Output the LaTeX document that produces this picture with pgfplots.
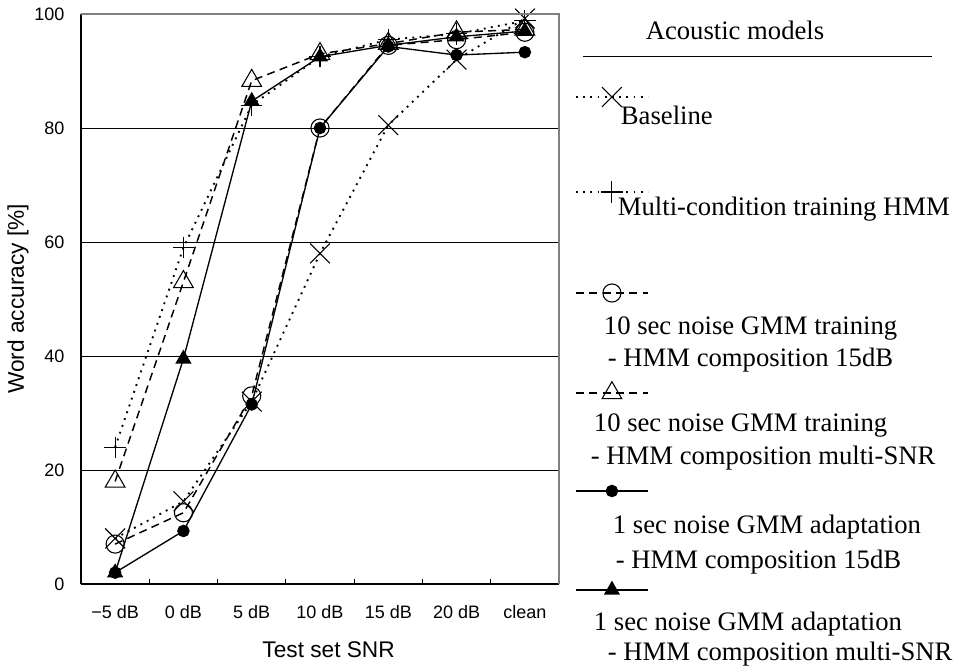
\documentclass[border=0pt]{standalone}
\usepackage{fontspec}
\setmainfont{Liberation Serif}
\newfontfamily\sansf{Liberation Sans}
\usepackage{pgfplots}
\pgfplotsset{compat=1.18}

\newcommand{\lf}{\fontsize{20}{24}\selectfont}
\tikzset{lt/.style={overlay, anchor=base west, inner sep=0pt, font=\lf, text=black, draw=none, fill=none}}
\newcommand{\legsample}[1]{%
  \draw[mark repeat=2, mark phase=2] plot coordinates {(0pt,0pt) (27pt,0pt) (54pt,0pt)};%
  \path[draw=none, fill=none] (0pt,20pt) rectangle (54pt,-#1);%
}

\begin{document}
\begin{tikzpicture}
\useasboundingbox (-60.75pt,-64.5pt) rectangle (657pt,438pt);
\begin{axis}[
  at={(0,0)}, anchor=south west,
  scale only axis, width=358.5pt, height=427.5pt,
  xmin=-0.5, xmax=6.5, ymin=0, ymax=100,
  clip=false,
  axis lines*=left,
  axis line style={black, line width=1pt},
  xtick={0,...,6},
  xticklabels={−5 dB, 0 dB, 5 dB, 10 dB, 15 dB, 20 dB, clean},
  minor xtick={0.5,1.5,...,5.5},
  major tick length=0pt,
  minor tick length=3.75pt,
  tick align=inside,
  minor tick style={black, line width=0.75pt},
  ytick={0,20,...,100},
  ymajorgrids,
  major grid style={black, line width=0.6pt},
  /pgf/number format/assume math mode=true,
  tick label style={font=\sansf\fontsize{13.5}{15}\selectfont},
  xticklabel style={yshift=-13pt, text height=9.5pt, text depth=2.5pt},
  yticklabel style={xshift=-9pt},
  xlabel={Test set SNR},
  ylabel={Word accuracy [\%]},
  label style={font=\sansf\fontsize{17}{20}\selectfont},
  xlabel style={at={(axis description cs:0.518,-0.1158)}, anchor=center},
  ylabel style={at={(axis description cs:-0.1318,0.5)}, anchor=center},
  legend style={at={(axis description cs:1.03347,0.90117)}, anchor=north west,
    draw=none, fill=none, inner sep=0pt, outer sep=0pt, row sep=0pt,
    font=\tiny, nodes={inner sep=0pt}},
]
\addplot[black, line width=1.4pt, dash pattern=on 1.4pt off 4pt,
  mark=x, mark size=10.5pt, mark options={solid, line width=0.8pt},
  legend image code/.code={\legsample{51.25pt}\node[lt] at (33.75pt,-21pt) {Baseline};}]
  coordinates {(0,8) (1,14.5) (2,32) (3,58) (4,80.5) (5,92) (6,99.2)};
\addlegendentry{\mbox{}}
\addplot[black, line width=1.4pt, dash pattern=on 1.4pt off 4pt,
  mark=+, mark size=8pt, mark options={solid, line width=0.8pt},
  legend image code/.code={\legsample{55.75pt}\node[lt] at (31.5pt,-17.5pt) {Multi-condition training HMM};}]
  coordinates {(0,24) (1,59) (2,84) (3,92.5) (4,95.5) (5,96.5) (6,98.8)};
\addlegendentry{\mbox{}}
\addplot[black, line width=1.1pt, dash pattern=on 6pt off 4pt,
  mark=o, mark size=6.8pt, mark options={solid, line width=0.8pt},
  legend image code/.code={\legsample{55pt}\node[lt] at (21pt,-31.5pt) {10 sec noise GMM training};
    \node[lt] at (24pt,-55.5pt) {- HMM composition 15dB};}]
  coordinates {(0,7) (1,12.5) (2,33) (3,80) (4,94.5) (5,95.5) (6,96.8)};
\addlegendentry{\mbox{}}
\addplot[black, line width=1.1pt, dash pattern=on 6pt off 4pt,
  mark=triangle, mark size=8.5pt, mark options={solid, line width=0.8pt},
  legend image code/.code={\legsample{53.5pt}\node[lt] at (13.5pt,-29.25pt) {10 sec noise GMM training};
    \node[lt] at (11.25pt,-54pt) {- HMM composition multi-SNR};}]
  coordinates {(0,18) (1,53) (2,88.3) (3,93) (4,94.8) (5,96.8) (6,97.3)};
\addlegendentry{\mbox{}}
\addplot[black, line width=1pt,
  mark=*, mark size=4.2pt, mark options={solid, fill=black},
  legend image code/.code={\legsample{54.25pt}\node[lt] at (27.75pt,-32.25pt) {1 sec noise GMM adaptation};
    \node[lt] at (30pt,-58pt) {- HMM composition 15dB};}]
  coordinates {(0,2) (1,9.3) (2,31.5) (3,80) (4,94.3) (5,92.8) (6,93.3)};
\addlegendentry{\mbox{}}
\addplot[black, line width=1pt,
  mark=triangle*, mark size=6pt, mark options={solid, fill=black},
  legend image code/.code={\legsample{54pt}\node[lt] at (13.5pt,-30.5pt) {1 sec noise GMM adaptation};
    \node[lt] at (24pt,-53pt) {- HMM composition multi-SNR};}]
  coordinates {(0,2) (1,39.5) (2,84.7) (3,92.5) (4,94.5) (5,96) (6,97)};
\addlegendentry{\mbox{}}
\end{axis}
\draw[gray, line width=1pt] (0pt,427.5pt) -- (358.5pt,427.5pt) -- (358.5pt,0pt);
\node[anchor=base, font=\lf] at (490.5pt,408pt) {Acoustic models};
\draw[black, line width=0.75pt] (376.5pt,395.25pt) -- (638.25pt,395.25pt);
\end{tikzpicture}
\end{document}
